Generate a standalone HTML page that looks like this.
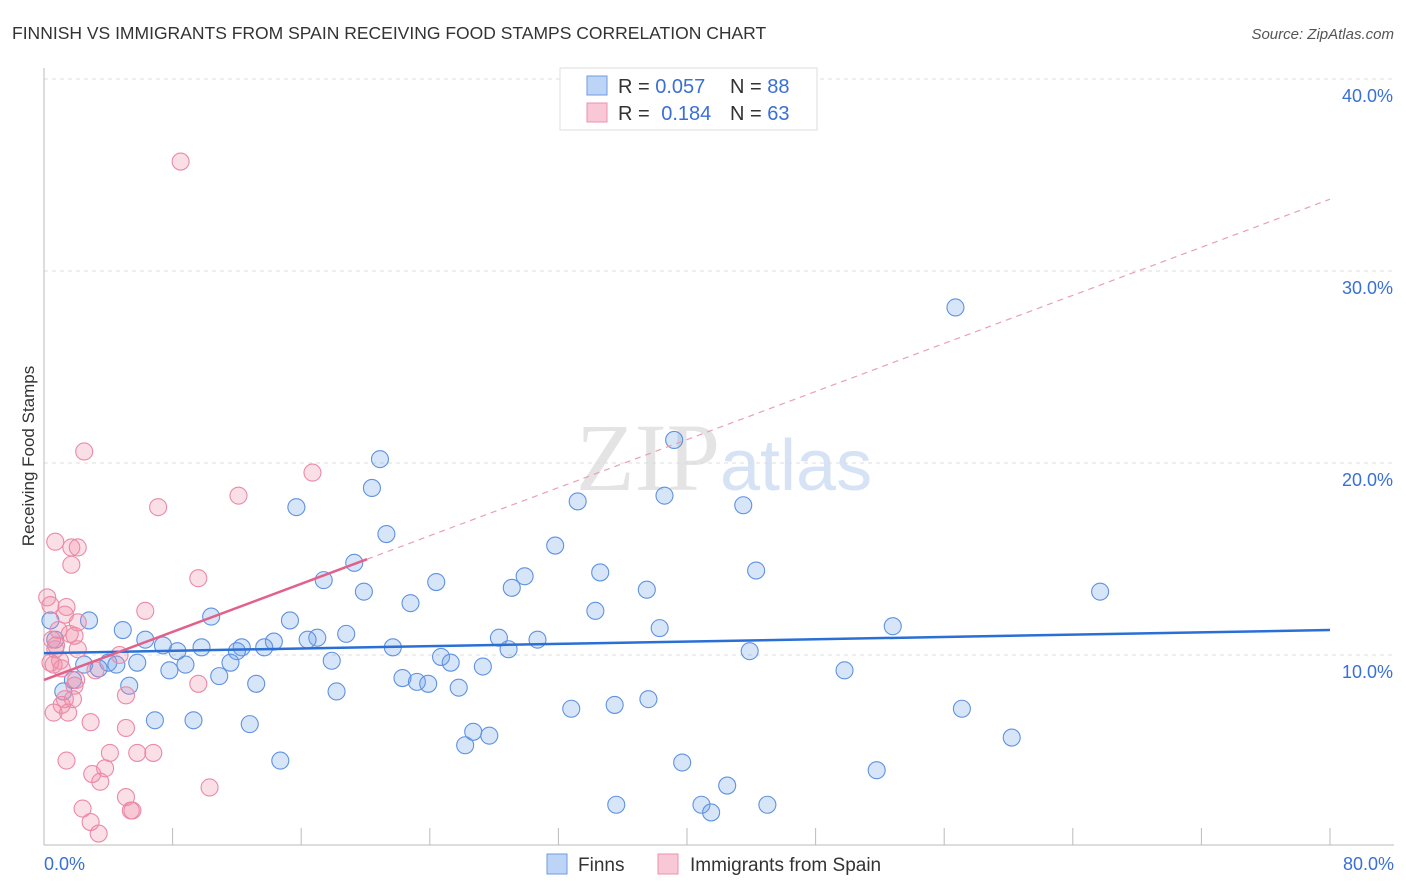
<!DOCTYPE html>
<html><head><meta charset="utf-8"><style>
body{margin:0;background:#fff;font-family:"Liberation Sans",sans-serif}
</style></head><body>
<svg width="1406" height="892" viewBox="0 0 1406 892" style="display:block">
<text x="12" y="39" font-size="17.5" fill="#333">FINNISH VS IMMIGRANTS FROM SPAIN RECEIVING FOOD STAMPS CORRELATION CHART</text>
<text x="1394" y="39" font-size="15" fill="#555" font-style="italic" text-anchor="end">Source: ZipAtlas.com</text>
<text x="720" y="490" font-size="96" fill="#e4e4e4" text-anchor="end" font-family="Liberation Serif,serif">ZIP</text>
<text x="720" y="490" font-size="72" fill="#d6e3f5">atlas</text>
<g id="grid"></g>
<g id="axes"></g>
<g id="pts"></g>
<g id="lines"></g>
<text transform="translate(34,456) rotate(-90)" font-size="17" fill="#333" text-anchor="middle">Receiving Food Stamps</text>
<g>
<rect x="560" y="68" width="257" height="62" fill="#fff" stroke="#ddd"/>
<rect x="587" y="76" width="20" height="19" fill="#bcd4f6" stroke="#6f9be0"/>
<rect x="587" y="103" width="20" height="19" fill="#f9c8d6" stroke="#ec92ad"/>
<text x="618" y="93" font-size="20" fill="#333">R = <tspan fill="#3a6fd6">0.057</tspan></text>
<text x="730" y="93" font-size="20" fill="#333">N = <tspan fill="#3a6fd6">88</tspan></text>
<text x="618" y="120" font-size="20" fill="#333">R = <tspan fill="#3a6fd6" dx="6">0.184</tspan></text>
<text x="730" y="120" font-size="20" fill="#333">N = <tspan fill="#3a6fd6">63</tspan></text>
</g>
<g>
<rect x="547" y="854" width="20" height="20" fill="#bcd4f6" stroke="#6f9be0"/>
<text x="578" y="871" font-size="19" fill="#333">Finns</text>
<rect x="658" y="854" width="20" height="20" fill="#f9c8d6" stroke="#ec92ad"/>
<text x="690" y="871" font-size="19" fill="#333">Immigrants from Spain</text>
</g>
</svg>
<script>
const xTicks=[0,8,16,24,32,40,48,56,64,72,80];
const yTicks=[10,20,30,40];
const finnsX=[56.7,39.2,20.9,20.4,15.7,33.2,38.6,43.5,21.3,19.3,31.8,17.4,29.9,34.6,44.3,24.4,19.9,29.1,37.5,65.7,22.8,34.3,10.4,15.3,2.8,38.3,52.8,4.9,18.8,17.0,28.3,14.3,16.4,6.3,30.7,7.4,9.8,12.3,13.7,21.7,28.9,8.3,12.0,43.9,24.7,25.3,11.6,17.9,5.8,4.0,2.5,4.5,8.8,27.3,3.4,7.8,49.8,10.9,22.3,23.2,23.9,13.2,5.3,25.8,18.2,1.2,1.8,6.9,9.3,32.8,35.5,37.6,57.1,12.8,26.7,27.7,26.2,60.2,14.7,39.7,51.8,42.5,35.6,40.9,45.0,41.5,0.4,0.7];
const finnsY=[28.1,21.2,20.2,18.7,17.7,18.0,18.3,17.8,16.3,14.8,15.7,13.9,14.1,14.3,14.4,13.8,13.3,13.5,13.4,13.3,12.7,12.3,12.0,11.8,11.8,11.4,11.5,11.3,11.1,10.9,10.9,10.7,10.8,10.8,10.8,10.5,10.4,10.4,10.4,10.4,10.3,10.2,10.2,10.2,9.9,9.6,9.6,9.7,9.6,9.6,9.5,9.5,9.5,9.4,9.3,9.2,9.2,8.9,8.8,8.6,8.5,8.5,8.4,8.3,8.1,8.1,8.7,6.6,6.6,7.2,7.4,7.7,7.2,6.4,6.0,5.8,5.3,5.7,4.5,4.4,4.0,3.2,2.2,2.2,2.2,1.8,11.8,10.8];
const spainX=[8.5,2.5,16.7,12.1,7.1,0.7,1.7,2.1,1.7,9.6,6.3,0.2,0.4,1.4,1.3,2.1,0.9,1.6,1.9,0.5,0.7,2.1,4.7,1.0,0.6,1.1,3.2,1.9,2.0,9.6,5.1,1.3,1.8,1.1,0.6,1.5,2.9,5.1,4.1,5.8,6.8,1.4,3.8,3.0,3.5,10.3,5.1,2.4,5.4,5.5,2.9,3.4,0.4,0.75];
const spainY=[35.7,20.6,19.5,18.3,17.7,15.9,15.6,15.6,14.7,14.0,12.3,13.0,12.6,12.5,12.1,11.7,11.3,11.1,11.0,10.8,10.3,10.3,10.0,9.7,9.5,9.3,9.2,8.4,8.7,8.5,7.9,7.7,7.7,7.4,7.0,7.0,6.5,6.2,4.9,4.9,4.9,4.5,4.1,3.8,3.4,3.1,2.6,2.0,1.9,1.9,1.3,0.7,9.6,10.5];
const finnsTrend=[10.1,11.3];
const spainTrend=[8.7,0.313];
const spainSolidEnd=20.1;

const NS="http://www.w3.org/2000/svg";
const X=v=>44+v/80*1286;
const Y=v=>847-v*19.2;
function mk(tag,attrs,parent){const e=document.createElementNS(NS,tag);for(const k in attrs)e.setAttribute(k,attrs[k]);parent.appendChild(e);return e;}
const grid=document.getElementById('grid'),axes=document.getElementById('axes'),pts=document.getElementById('pts'),lines=document.getElementById('lines');
mk('line',{x1:44,y1:68,x2:44,y2:845,stroke:'#bbb'},axes);
mk('line',{x1:44,y1:845,x2:1394,y2:845,stroke:'#bbb'},axes);
yTicks.forEach(t=>{
  const g=mk('line',{x1:44,y1:Y(t),x2:1394,y2:Y(t),stroke:'#ddd','stroke-dasharray':'4,4'},grid);
  
  
  const l=mk('text',{x:1393,y:Y(t)+23,'font-size':18,fill:'#3a6fd6','text-anchor':'end'},axes);
  l.textContent=t.toFixed(1)+'%';
  
  
});
xTicks.forEach(t=>{
  const tk=mk('line',{x1:X(t),y1:828,x2:X(t),y2:845,stroke:'#bbb'},axes);
  
  
});
[[0,'start',44],[80,'end',1394]].forEach(([t,a,x])=>{
  const l=mk('text',{x:x,y:870,'font-size':18,fill:'#3a6fd6','text-anchor':a},axes);
  l.textContent=t.toFixed(1)+'%';
  
  
});
finnsX.forEach((x,i)=>{
  const c=mk('circle',{cx:X(x),cy:Y(finnsY[i]),r:8.5,fill:'rgba(110,160,230,0.28)',stroke:'#5f92e0','stroke-width':1.1},pts);
  
  
});
spainX.forEach((x,i)=>{
  const c=mk('circle',{cx:X(x),cy:Y(spainY[i]),r:8.5,fill:'rgba(242,140,170,0.28)',stroke:'#ea8aa6','stroke-width':1.1},pts);
  
  
});
const fl=mk('line',{x1:X(0),y1:Y(finnsTrend[0]),x2:X(80),y2:Y(finnsTrend[1]),stroke:'#2a6fd6','stroke-width':2.5},lines);


const sp=v=>spainTrend[0]+spainTrend[1]*v;
const sd=mk('line',{x1:X(spainSolidEnd),y1:Y(sp(spainSolidEnd)),x2:X(80),y2:Y(sp(80)),stroke:'#e8a0b4','stroke-width':1.2,'stroke-dasharray':'6,5'},lines);


const ss=mk('line',{x1:X(0),y1:Y(sp(0)),x2:X(spainSolidEnd),y2:Y(sp(spainSolidEnd)),stroke:'#e2608a','stroke-width':2.5},lines);


</script>
</body></html>
